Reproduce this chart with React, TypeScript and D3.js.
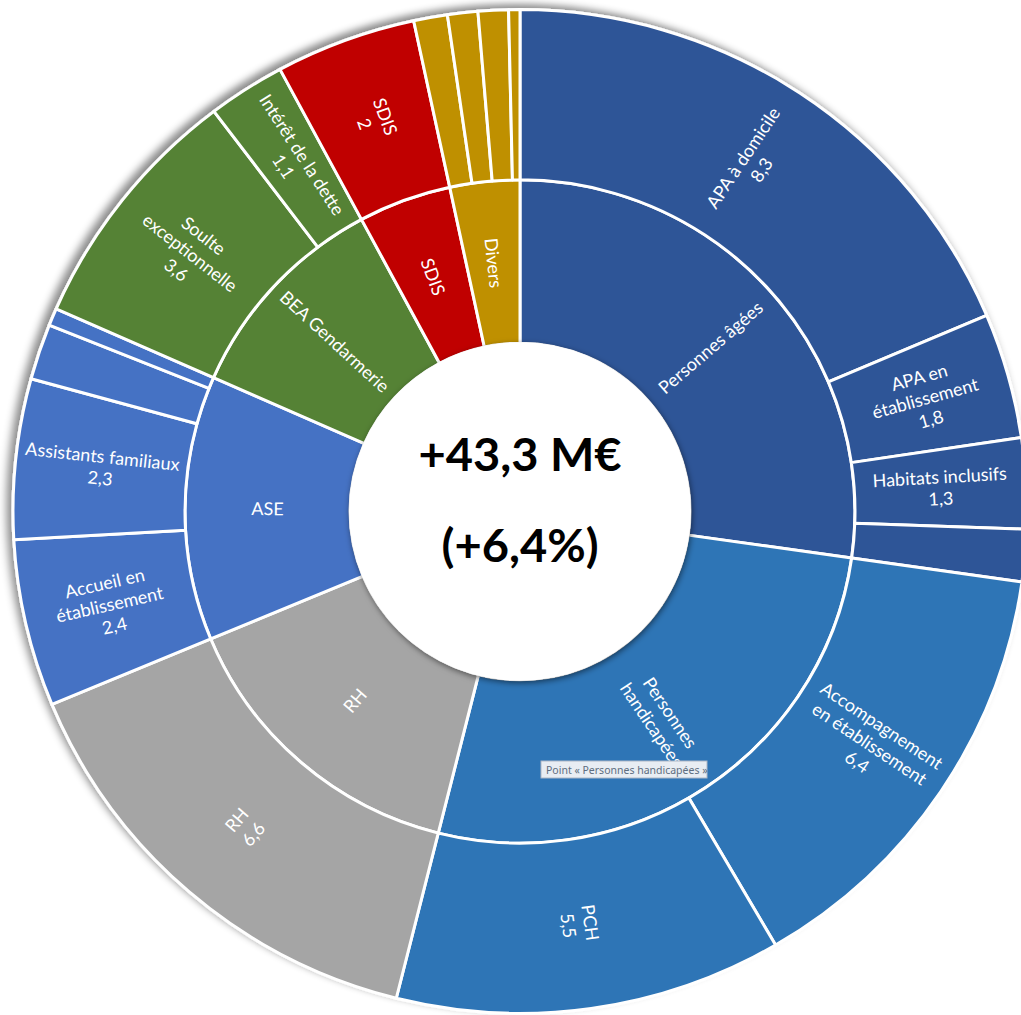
import * as d3 from 'd3'
import { useEffect, useRef } from 'react'

const width = 1021, height = 1015
const cx = 520, cy = 511.5
const radii = [0, 170, 335, 507]

// inner ring
const groups = ['Personnes âgées', 'Personnes handicapées', 'RH', 'ASE', 'BEA Gendarmerie', 'SDIS', 'Divers']
const groupLines = [['Personnes âgées'], ['Personnes', 'handicapées'], ['RH'], ['ASE'], ['BEA Gendarmerie'], ['SDIS'], ['Divers']]
const groupColors = ['#2F5597', '#2E75B6', '#A5A5A5', '#4472C4', '#548235', '#C00000', '#BF9000']

// outer ring (M€)
const itemGroups = [
  'Personnes âgées', 'Personnes âgées', 'Personnes âgées', 'Personnes âgées',
  'Personnes handicapées', 'Personnes handicapées',
  'RH',
  'ASE', 'ASE', 'ASE', 'ASE',
  'BEA Gendarmerie', 'BEA Gendarmerie',
  'SDIS',
  'Divers', 'Divers', 'Divers', 'Divers'
]
const itemNames = [
  'APA à domicile', 'APA en|établissement', 'Habitats inclusifs', '',
  'Accompagnement|en établissement', 'PCH',
  'RH',
  'Accueil en|établissement', 'Assistants familiaux', '', '',
  'Soulte|exceptionnelle', 'Intérêt de la dette',
  'SDIS',
  '', '', '', ''
]
const itemValues = [
  8.3, 1.8, 1.3, 0.75,
  6.4, 5.5,
  6.6,
  2.4, 2.3, 0.8, 0.25,
  3.6, 1.1,
  2,
  0.48, 0.43, 0.43, 0.16
]

const totalLabel = '+43,3 M€'
const pctLabel = '(+6,4%)'
const tooltipLabel = 'Point « Personnes handicapées »'

const fr = d3.formatLocale({ decimal: ',', thousands: ' ', grouping: [3], currency: ['', ' €'] })
const fmt = fr.format('~f')

const chart = (svgNode) => {
  const svg = d3.select(svgNode)
  svg.selectAll('*').remove()

  const data = {
    name: 'root',
    children: groups.map((g, gi) => ({
      name: g,
      lines: groupLines[gi],
      color: groupColors[gi],
      children: itemGroups
        .map((p, i) => ({ p, name: itemNames[i], value: itemValues[i] }))
        .filter(d => d.p === g)
        .map(d => ({
          name: d.name,
          value: d.value,
          color: groupColors[gi],
          lines: d.name ? [...d.name.split('|'), fmt(d.value)] : []
        }))
    }))
  }

  const root = d3.hierarchy(data).sum(d => d.children ? 0 : d.value)
  d3.partition().size([2 * Math.PI, 3])(root)
  const nodes = root.descendants().filter(d => d.depth > 0)

  const arc = d3.arc()
    .startAngle(d => d.x0)
    .endAngle(d => d.x1)
    .innerRadius(d => radii[d.depth])
    .outerRadius(d => radii[d.depth + 1])

  const defs = svg.append('defs')
  defs.append('filter')
    .attr('id', 'ringShadow')
    .attr('x', '-10%').attr('y', '-10%').attr('width', '120%').attr('height', '120%')
    .append('feDropShadow')
    .attr('dx', -5).attr('dy', -4).attr('stdDeviation', 4)
    .attr('flood-color', '#000').attr('flood-opacity', 0.45)
  defs.append('filter')
    .attr('id', 'holeShadow')
    .attr('x', '-20%').attr('y', '-20%').attr('width', '140%').attr('height', '140%')
    .append('feDropShadow')
    .attr('dx', 1).attr('dy', 2).attr('stdDeviation', 3)
    .attr('flood-color', '#000').attr('flood-opacity', 0.55)

  const g = svg.append('g')
    .attr('transform', `translate(${cx},${cy}) scale(1,0.99)`)

  g.append('g')
    .attr('filter', 'url(#ringShadow)')
    .selectAll('path')
    .data(nodes)
    .join('path')
      .attr('d', arc)
      .attr('fill', d => d.data.color)
      .attr('stroke', '#fff')
      .attr('stroke-width', 3)
      .attr('stroke-linejoin', 'round')

  // labels
  const fontSize = 18, lineH = 22
  const labels = g.append('g')
    .attr('font-family', 'Lato, "Open Sans", sans-serif')
    .attr('font-size', fontSize)
    .attr('fill', '#fff')
    .attr('text-anchor', 'middle')
    .selectAll('text')
    .data(nodes.filter(d => d.data.lines.length))
    .join('text')
      .attr('transform', d => {
        const a = (d.x0 + d.x1) / 2
        const r = (radii[d.depth] + radii[d.depth + 1]) / 2
        const deg = a * 180 / Math.PI
        const rot = deg < 180 ? deg - 90 : deg - 270
        return `translate(${r * Math.sin(a)},${-r * Math.cos(a)}) rotate(${rot})`
      })

  labels.selectAll('tspan')
    .data(d => d.data.lines.map((t, i, arr) => ({ t, dy: (i - (arr.length - 1) / 2) * lineH })))
    .join('tspan')
      .attr('x', 0)
      .attr('y', d => d.dy)
      .attr('dy', '0.35em')
      .text(d => d.t)

  // centre disc
  g.append('circle')
    .attr('r', radii[1] + 1)
    .attr('fill', '#fff')
    .attr('filter', 'url(#holeShadow)')

  const center = g.append('g')
    .attr('font-family', 'Lato, "Open Sans", sans-serif')
    .attr('font-weight', 700)
    .attr('font-size', 47)
    .attr('fill', '#000')
    .attr('text-anchor', 'middle')
  center.append('text').attr('x', 0).attr('y', -41).text(totalLabel)
  center.append('text').attr('x', 0).attr('y', 51).text(pctLabel)

  // hover tooltip left in the screenshot
  const tip = svg.append('g').attr('transform', 'translate(541,761)')
  tip.append('rect')
    .attr('width', 166).attr('height', 17)
    .attr('fill', '#E8EDF3')
    .attr('stroke', '#AEB8C5')
    .attr('stroke-width', 1)
  tip.append('text')
    .attr('x', 5).attr('y', 12.5)
    .attr('font-family', '"Noto Sans", sans-serif')
    .attr('font-size', 10.5)
    .attr('fill', '#5E6D80')
    .text(tooltipLabel)
}

export default function App() {
  const svg = useRef(null)
  useEffect(() => {
    if (svg.current) chart(svg.current)
  }, [])
  return (
    <svg
      ref={svg}
      width={width}
      height={height}
      style={{ position: 'absolute', left: 0, top: 0, display: 'block', background: '#fff' }}
    />
  )
}
